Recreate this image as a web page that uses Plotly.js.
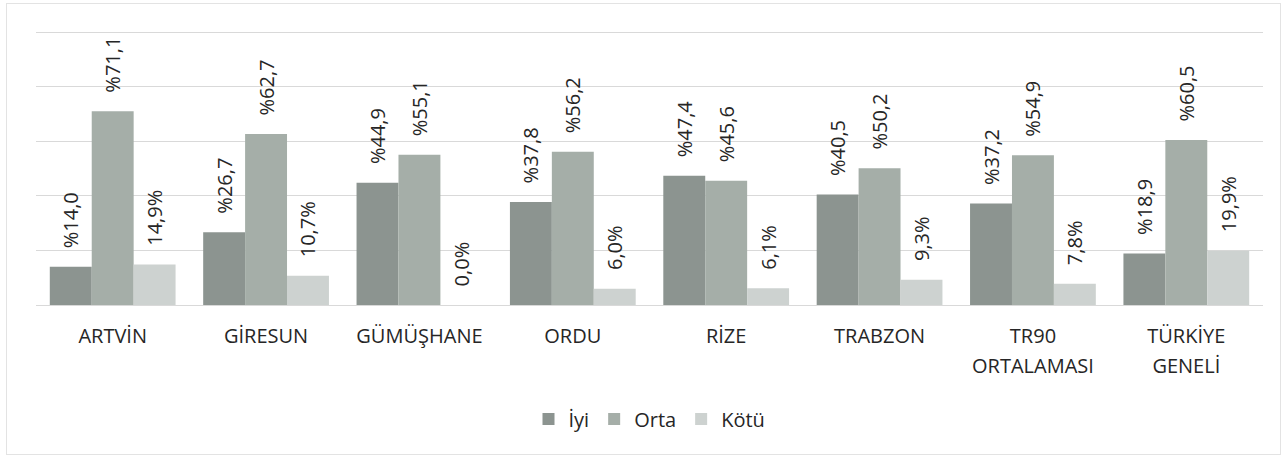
<!DOCTYPE html>
<html>
<head>
<meta charset="utf-8">
<script src="https://cdn.plot.ly/plotly-3.0.1.min.js"></script>
<style>
  html, body { margin: 0; padding: 0; background: #ffffff; }
  #wrap { position: relative; width: 1288px; height: 458px; }
  #chart { width: 1288px; height: 458px; }
  #frame { position: absolute; left: 6px; top: 3px; width: 1275px; height: 452px; border: 1px solid #e3e3e3; pointer-events: none; box-sizing: border-box; }
</style>
</head>
<body>
<div id="wrap">
  <div id="chart"></div>
  <div id="frame"></div>
</div>
<script>
const categories = ["ARTVİN", "GİRESUN", "GÜMÜŞHANE", "ORDU", "RİZE", "TRABZON", "TR90<br>ORTALAMASI", "TÜRKİYE<br>GENELİ"];
const seriesNames = ["İyi", "Orta", "Kötü"];
const iyi  = [14.0, 26.7, 44.9, 37.8, 47.4, 40.5, 37.2, 18.9];
const orta = [71.1, 62.7, 55.1, 56.2, 45.6, 50.2, 54.9, 60.5];
const kotu = [14.9, 10.7, 0.0, 6.0, 6.1, 9.3, 7.8, 19.9];
const gridValues = [20, 40, 60, 80, 100];

const FONT = "Open Sans, sans-serif";
const TXT = "#262626";
const pad = "\u00a0\u00a0\u00a0";
const fmt = v => v.toFixed(1).replace(".", ",");
const prefixLabels = arr => arr.map(v => pad + "%" + fmt(v));
const suffixLabels = arr => arr.map(v => pad + fmt(v) + "%");

const tickText = categories.map(c => '<span style="font-size:20px">' + c.split("<br>").join('</span><br><span style="font-size:20px">') + '</span>');

function barTrace(name, y, text, color) {
  return {
    type: "bar", name: name, x: categories, y: y,
    text: text, textposition: "outside", textangle: -90,
    textfont: { family: FONT, size: 20, color: TXT },
    constraintext: "none",
    cliponaxis: false,
    marker: { color: color, line: { width: 0 } },
    hoverinfo: "none"
  };
}

const data = [
  barTrace(seriesNames[0], iyi, prefixLabels(iyi), "#8c9490"),
  barTrace(seriesNames[1], orta, prefixLabels(orta), "#a5aea8"),
  barTrace(seriesNames[2], kotu, suffixLabels(kotu), "#cdd2d0")
];

const layout = {
  width: 1288, height: 458,
  margin: { l: 36, r: 25, t: 27, b: 153, pad: 0 },
  paper_bgcolor: "#ffffff", plot_bgcolor: "#ffffff",
  barmode: "group", bargap: 0.18, bargroupgap: 0,
  font: { family: FONT, color: TXT, size: 20 },
  showlegend: true,
  legend: {
    orientation: "h", x: 0.5, xanchor: "center", y: -0.41, yanchor: "middle",
    font: { family: FONT, size: 20, color: TXT },
    itemwidth: 30, traceorder: "normal"
  },
  xaxis: {
    type: "category", tickmode: "array", tickvals: categories, ticktext: tickText,
    tickfont: { family: FONT, size: 23, color: TXT },
    ticklabelstandoff: 9,
    showgrid: false, zeroline: false, showline: true, linecolor: "#d9d9d9", linewidth: 1,
    ticks: "", fixedrange: true
  },
  yaxis: {
    range: [0, 102], tickmode: "array", tickvals: gridValues, showticklabels: false,
    showgrid: true, gridcolor: "#d9d9d9", gridwidth: 1,
    zeroline: false, showline: false, ticks: "", fixedrange: true
  }
};

Plotly.newPlot("chart", data, layout, { displayModeBar: false, staticPlot: true });
</script>
</body>
</html>
